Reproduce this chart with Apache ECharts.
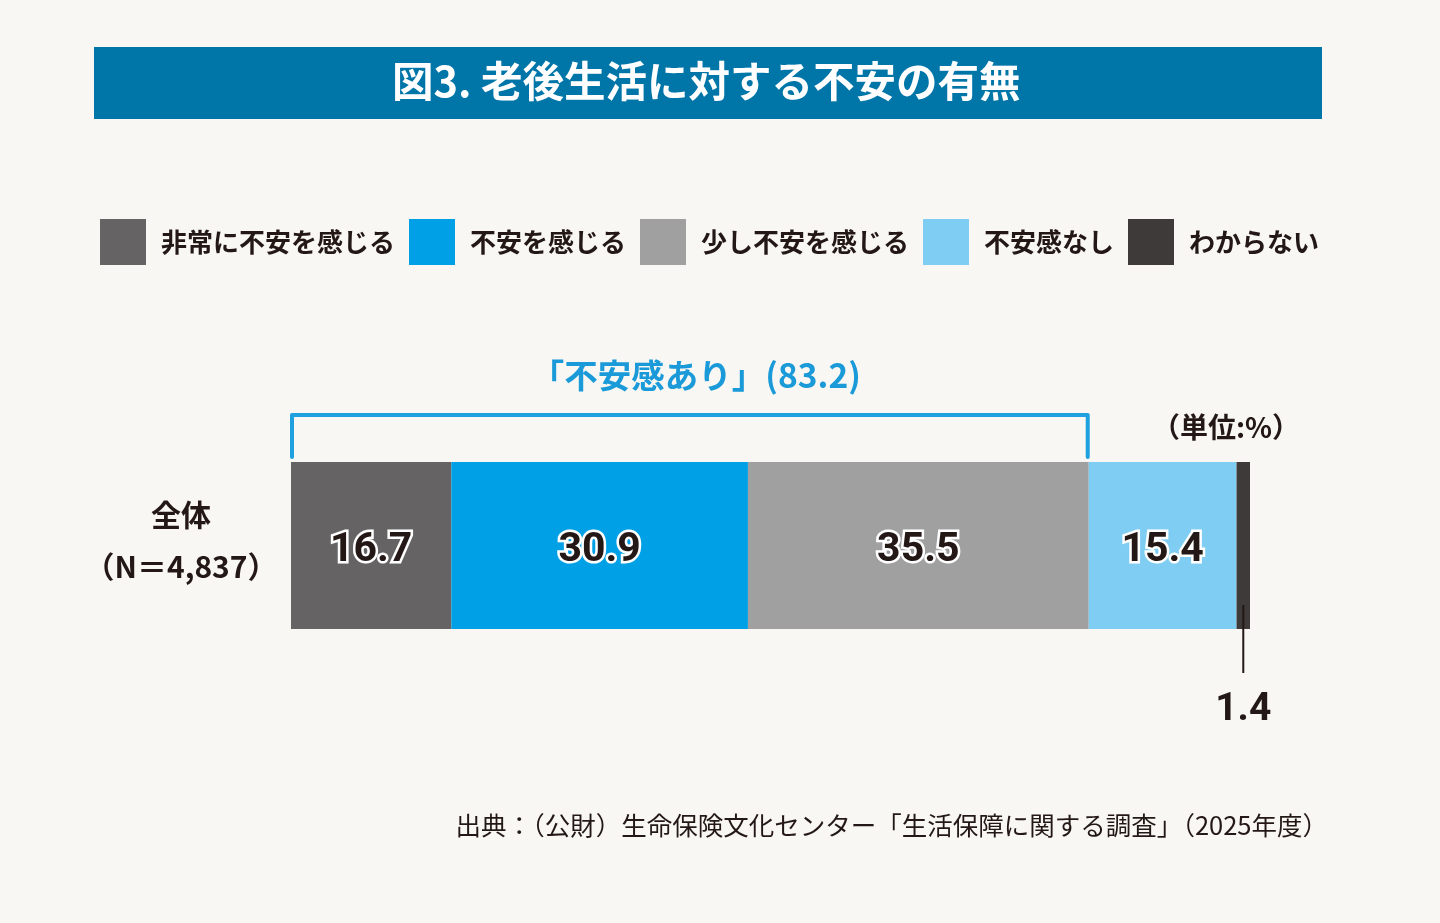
<!DOCTYPE html>
<html><head><meta charset="utf-8">
<script src="https://cdn.jsdelivr.net/npm/echarts@6/dist/echarts.min.js"></script>
<style>html,body{margin:0;padding:0;background:#f8f7f3;}#c{width:1440px;height:923px;}</style>
</head><body><div id="c"></div>
<script>
const categories = ['全体\n（N＝4,837）'];
const seriesNames = ['非常に不安を感じる', '不安を感じる', '少し不安を感じる', '不安感なし', 'わからない'];
const seriesValues = [[16.7], [30.9], [35.5], [15.4], [1.4]];
const seriesColors = ['#656363', '#00a0e6', '#a0a0a0', '#7fcdf2', '#3e3a39'];
const bracketLabel = '「不安感あり」(83.2)';
const bracketEnd = 83.1; // sum of first three series
const unitLabel = '（単位:%）';
const titleText = '図3. 老後生活に対する不安の有無';
const sourceText = '出典：（公財）生命保険文化センター「生活保障に関する調査」（2025年度）';

const FONT = '"Noto Sans CJK JP", "Noto Sans", sans-serif';
const chart = echarts.init(document.getElementById('c'), null, {renderer: 'canvas'});
const total = seriesValues.reduce((a, v) => a + v[0], 0);

const series = seriesNames.map((name, i) => {
  const last = i === seriesNames.length - 1;
  return {
    name, type: 'bar', stack: 'all', barWidth: '100%',
    data: seriesValues[i],
    itemStyle: {color: seriesColors[i]},
    label: {
      show: true,
      position: last ? 'bottom' : 'inside',
      distance: last ? 62 : 0,
      offset: last ? [0, 0] : [0, 5],
      formatter: p => p.value.toFixed(1),
      fontFamily: 'Roboto, sans-serif', fontWeight: 'bold',
      fontSize: last ? 39 : 41,
      color: '#231815',
      textBorderColor: last ? 'transparent' : '#ffffff',
      textBorderWidth: last ? 0 : 5
    }
  };
});

function graphics(extra) {
  return [
    {type: 'rect', z: -1, shape: {x: 94, y: 47, width: 1228, height: 72}, style: {fill: '#0075a8'}},
    {type: 'text', left: 1152, top: 413, style: {text: unitLabel, fontSize: 28, fontWeight: 'bold', fill: '#231815', fontFamily: FONT}},
    {type: 'text', right: 112, top: 813, style: {text: sourceText, fontSize: 25.5, fill: '#231815', fontFamily: FONT}}
  ].concat(extra || []);
}

chart.setOption({
  backgroundColor: '#f8f7f3',
  animation: false,
  title: {
    text: titleText, left: 392, top: 60, padding: 0,
    textStyle: {color: '#ffffff', fontSize: 41.5, fontWeight: 'bold', fontFamily: FONT}
  },
  legend: {
    left: 100, top: 219, padding: 0, itemWidth: 46, itemHeight: 46, itemGap: 14,
    icon: 'rect',
    textStyle: {fontSize: 26, fontWeight: 'bold', color: '#231815', fontFamily: FONT, padding: [0, 0, 0, 10]},
    selectedMode: false
  },
  grid: {left: 291, top: 462, width: 959, height: 167},
  xAxis: {type: 'value', min: 0, max: total, show: false},
  yAxis: {
    type: 'category', data: categories,
    axisLine: {show: false}, axisTick: {show: false},
    axisLabel: {
      margin: 110, align: 'center', fontSize: 30, fontWeight: 'bold',
      color: '#231815', fontFamily: FONT, lineHeight: 52,
      formatter: v => v.split('\n').map(s => '{t|' + s + '}').join('\n') + '\n{s|}',
      rich: {
        t: {fontSize: 30, fontWeight: 'bold', color: '#231815', fontFamily: FONT, lineHeight: 52, align: 'center'},
        s: {fontSize: 1, lineHeight: 9}
      }
    }
  },
  series,
  graphic: graphics()
});

function addOverlays() {
  const x0 = chart.convertToPixel({gridIndex: 0}, [0, 0])[0];
  const x1 = chart.convertToPixel({gridIndex: 0}, [bracketEnd, 0])[0];
  const cumLast = total - seriesValues[seriesValues.length - 1][0] / 2;
  const xl = chart.convertToPixel({gridIndex: 0}, [cumLast, 0]);
  const barTop = 462, barBottom = 629;
  chart.setOption({
    graphic: graphics([
      {type: 'polyline', shape: {points: [[x0 + 1, barTop - 5], [x0 + 1, barTop - 47], [x1 - 1, barTop - 47], [x1 - 1, barTop - 5]]},
        style: {stroke: '#1fa1df', lineWidth: 4, fill: null, lineJoin: 'round', lineCap: 'round'}},
      {type: 'text', x: (x0 + x1) / 2 + 6, y: 375, style: {text: bracketLabel, align: 'center', verticalAlign: 'middle', fontSize: 33.5, fontWeight: 'bold', fill: '#1a9ad8', fontFamily: FONT}},
      {type: 'line', shape: {x1: xl[0], y1: barBottom - 24, x2: xl[0], y2: barBottom + 44}, style: {stroke: '#231815', lineWidth: 2}, z: 10}
    ])
  });
}
addOverlays();
</script></body></html>
